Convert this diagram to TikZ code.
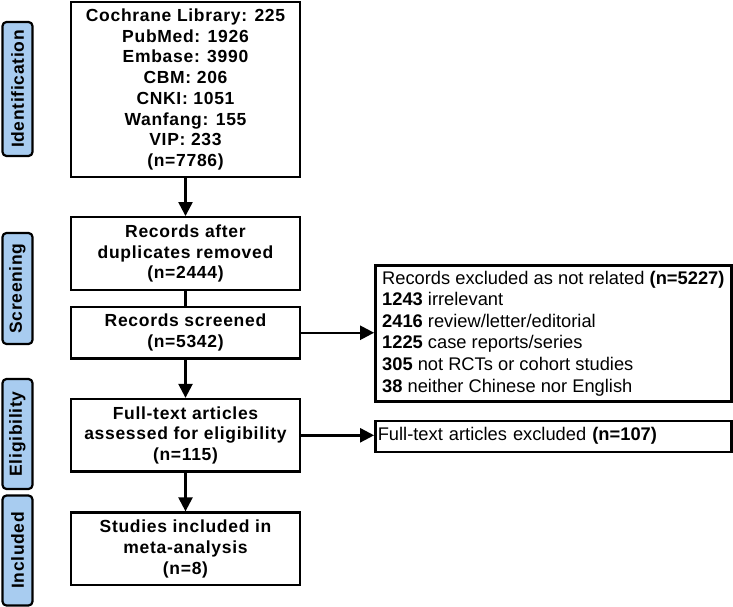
\documentclass[tikz,border=0pt]{standalone}
\usepackage{fontspec}
\setmainfont{Liberation Sans}
\usetikzlibrary{arrows.meta}
\definecolor{lblue}{RGB}{168,204,240}
\begin{document}
\begin{tikzpicture}[x=1pt,y=-1pt,
  box/.style={draw=black,line width=2.4pt,fill=white,minimum width=229pt,inner sep=0pt,
    align=center,font=\fontsize{17.5}{20.7}\selectfont\bfseries\addfontfeatures{LetterSpace=4}},
  rbox/.style={draw=black,line width=2.4pt,fill=white,minimum width=356pt,inner sep=0pt,
    align=left,font=\fontsize{18.3}{21.6}\selectfont},
  phase/.style={draw=black,line width=2.2pt,fill=lblue,rounded corners=4pt,rotate=90,
    minimum height=30pt,inner sep=0pt,font=\fontsize{17.5}{20}\selectfont\bfseries\addfontfeatures{LetterSpace=4}},
  arr/.style={line width=2.4pt,-{Triangle[width=14pt,length=14pt]}},
  ln/.style={line width=2.4pt}]
\useasboundingbox (0,0) rectangle (733,607);
% phase labels
\node[phase,minimum width=134pt] (pid) at (17.5,89) {Identification};
\node[phase,minimum width=111pt] (psc) at (17.5,288.5) {Screening};
\node[phase,minimum width=110pt] (pel) at (17.5,434) {Eligibility};
\node[phase,minimum width=110pt] (pin) at (17.5,550.5) {Included};
% main boxes
\node[box,minimum height=175pt] (b1) at (185.5,89.5) {Cochrane Library: 225\\PubMed: 1926\\Embase: 3990\\CBM: 206\\CNKI: 1051\\Wanfang: 155\\VIP: 233\\(n=7786)};
\node[box,minimum height=73pt] (b2) at (185.5,253.75) {Records after\\duplicates removed\\(n=2444)};
\node[box,minimum height=51.5pt] (b3) at (185.5,332.75) {Records screened\\(n=5342)};
\node[box,minimum height=72.5pt] (b4) at (185.5,435.3) {Full-text articles\\assessed for eligibility\\(n=115)};
\node[box,minimum height=72.5pt] (b5) at (185.5,548.8) {Studies included in\\meta-analysis\\(n=8)};
% right boxes
\node[rbox,minimum height=136pt] (r1) at (553.3,333.3) {Records excluded as not related \textbf{(n=5227)}\\\textbf{1243} irrelevant\\\textbf{2416} review/letter/editorial\\\textbf{1225} case reports/series\\\textbf{305} not RCTs or cohort studies\\\textbf{38} neither Chinese nor English};
\node[rbox,minimum height=31pt,text width=351pt] (r2) at (553.3,436.2) {Full-text articles excluded \textbf{(n=107)}};
% connectors
\draw[arr] (b1) -- (b2);
\draw[ln] (b2) -- (b3);
\draw[arr] (b3) -- (b4);
\draw[arr] (b4) -- (b5);
\draw[arr] (b3.east) -- (b3.east -| r1.west);
\draw[arr] (b4.east) -- (b4.east -| r2.west);
\end{tikzpicture}
\end{document}
